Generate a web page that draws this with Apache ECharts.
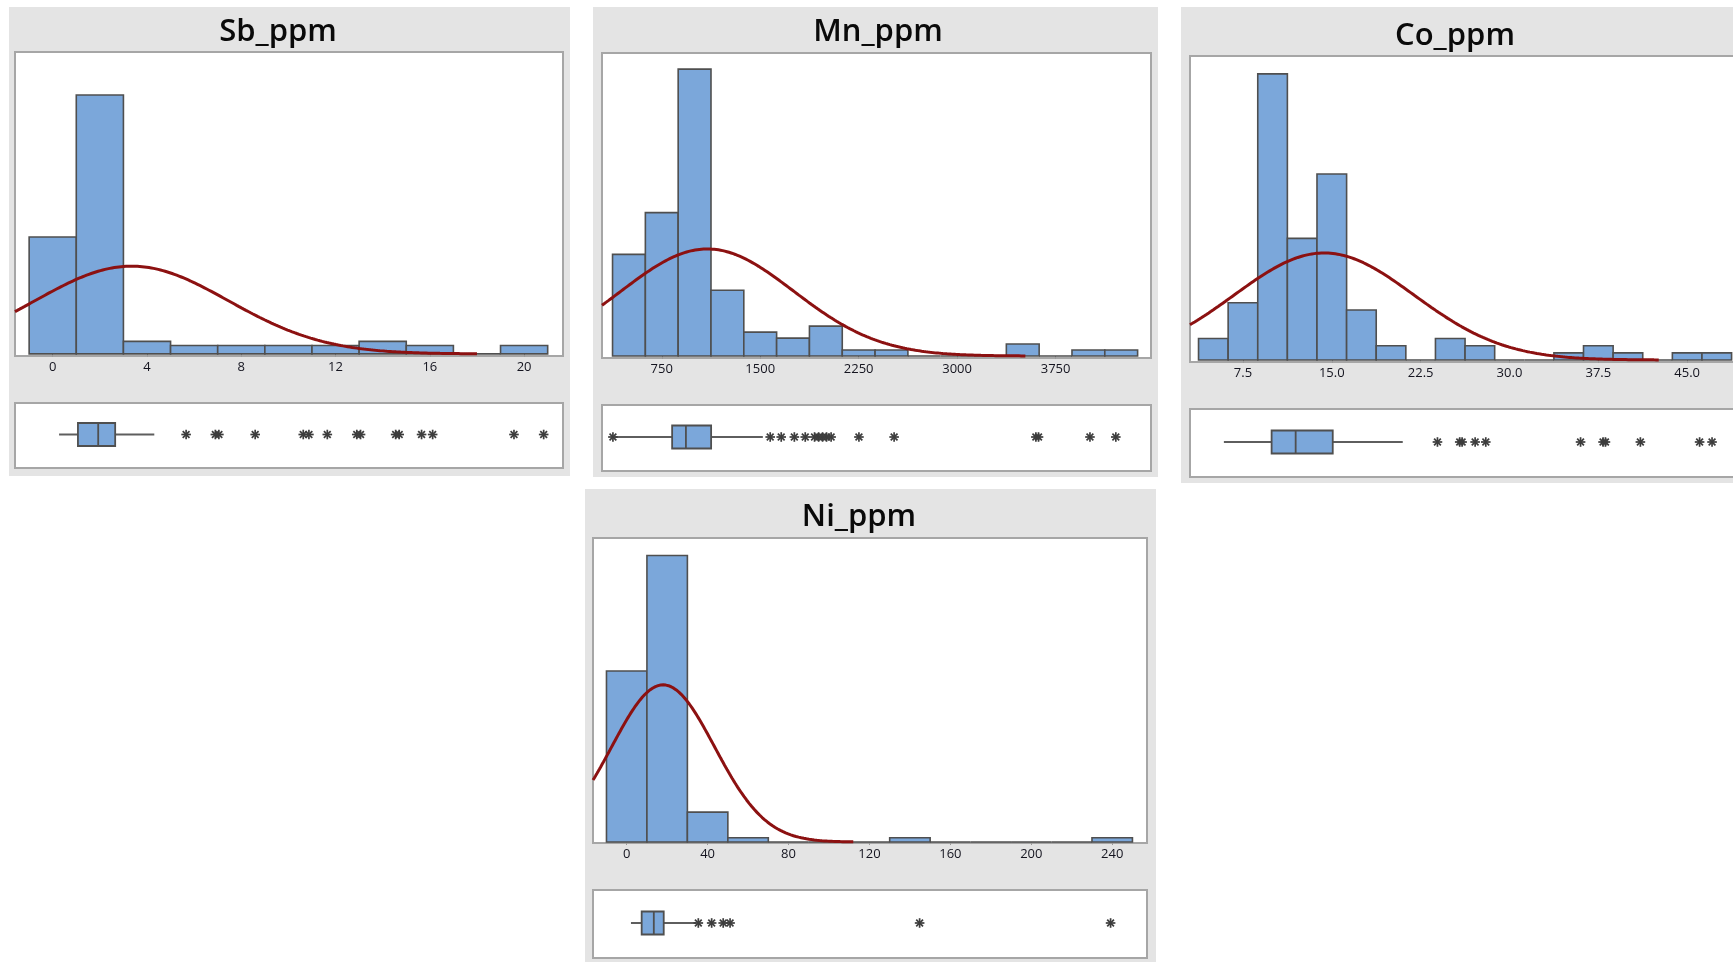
<!DOCTYPE html>
<html>
<head>
<meta charset="utf-8">
<title>Sb, Mn, Co, Ni (ppm) – histograms with normal fit and boxplots</title>
<script src="https://cdn.jsdelivr.net/npm/echarts@6/dist/echarts.min.js"></script>
<style>
  html, body { margin: 0; padding: 0; background: #ffffff; }
  #chart { width: 1733px; height: 962px; }
</style>
</head>
<body>
<div id="chart"></div>
<script>
// ---------------- Sb_ppm ----------------
const sbBinCenters = [0, 2, 4, 6, 8, 10, 12, 14, 16, 18, 20];
const sbCounts     = [28, 62, 3, 2, 2, 2, 2, 3, 2, 0, 2];
const sbBinWidth   = 2;
const sbBox        = [0.27, 1.07, 1.93, 2.65, 4.31];          // whisker low, Q1, median, Q3, whisker high
const sbOutliers   = [5.66, 6.9, 7.05, 8.59, 10.63, 10.87, 11.65, 12.9, 13.06, 14.55, 14.7, 15.65, 16.12, 19.57, 20.83];
const sbTicks      = [0, 4, 8, 12, 16, 20];
const sbAxisX      = [-1.6, 21.65];
const sbAxisY      = [-0.5, 72.3];
const sbFit        = [3.35, 4.1, 18.0];                       // mean, st.dev, end of drawn curve

// ---------------- Mn_ppm ----------------
const mnBinCenters = [500, 750, 1000, 1250, 1500, 1750, 2000, 2250, 2500, 2750, 3000, 3250, 3500, 3750, 4000, 4250];
const mnCounts     = [17, 24, 48, 11, 4, 3, 5, 1, 1, 0, 0, 0, 2, 0, 1, 1];
const mnBinWidth   = 250;
const mnBox        = [395, 829, 934, 1126, 1520];
const mnOutliers   = [378, 1576, 1660, 1760, 1843, 1914, 1945, 1975, 2005, 2040, 2252, 2520, 3600, 3620, 4012, 4209];
const mnTicks      = [750, 1500, 2250, 3000, 3750];
const mnAxisX      = [294.7, 4477];
const mnAxisY      = [-0.33, 50.7];
const mnFit        = [1097, 657, 3520];

// ---------------- Co_ppm ----------------
const coBinCenters = [5, 7.5, 10, 12.5, 15, 17.5, 20, 22.5, 25, 27.5, 30, 32.5, 35, 37.5, 40, 42.5, 45, 47.5];
const coCounts     = [3, 8, 40, 17, 26, 7, 2, 0, 3, 2, 0, 0, 1, 2, 1, 0, 1, 1];
const coBinWidth   = 2.5;
const coBox        = [5.89, 9.92, 11.95, 15.08, 20.99];
const coOutliers   = [23.92, 25.8, 26.0, 27.1, 28.0, 36.0, 37.9, 38.1, 41.05, 46.05, 47.1];
const coTicks      = [7.5, 15, 22.5, 30, 37.5, 45];
const coAxisX      = [3.03, 49.46];
const coAxisY      = [-0.28, 42.5];
const coFit        = [14.35, 7.6, 42.6];

// ---------------- Ni_ppm ----------------
const niBinCenters = [0, 20, 40, 60, 80, 100, 120, 140, 160, 180, 200, 220, 240];
const niCounts     = [40, 67, 7, 1, 0, 0, 0, 1, 0, 0, 0, 0, 1];
const niBinWidth   = 20;
const niBox        = [2.1, 7.4, 13.4, 18.3, 34.3];
const niOutliers   = [35.4, 42.0, 47.7, 51.1, 144.8, 239.2];
const niTicks      = [0, 40, 80, 120, 160, 200, 240];
const niAxisX      = [-16.66, 257.2];
const niAxisY      = [-0.23, 71.1];
const niFit        = [18.0, 25.4, 112];

// ---------------- styling ----------------
const PANEL_BG   = '#e4e4e4';
const FRAME      = '#a6a6a6';
const BAR_FILL   = '#7ba7da';
const BAR_EDGE   = '#4f4f4f';
const FIT_LINE   = '#8c1111';
const WHISKER    = '#5e5e5e';
const STAR       = '#3d3d3d';
const LABEL_FONT = '"Open Sans", "Noto Sans", sans-serif';

// Each panel: data references plus where its frames sit on the page.
const panels = [
  { title: 'Sb_ppm', centers: sbBinCenters, counts: sbCounts, width: sbBinWidth, box: sbBox, outliers: sbOutliers,
    ticks: sbTicks, decimals: 0, axisX: sbAxisX, axisY: sbAxisY, fit: sbFit,
    bg: [9, 7, 561, 469], hist: [15, 52, 548, 304], boxArea: [15, 403, 548, 65], titlePos: [278, 32] },
  { title: 'Mn_ppm', centers: mnBinCenters, counts: mnCounts, width: mnBinWidth, box: mnBox, outliers: mnOutliers,
    ticks: mnTicks, decimals: 0, axisX: mnAxisX, axisY: mnAxisY, fit: mnFit,
    bg: [593, 7, 565, 470], hist: [602, 53, 549, 305], boxArea: [602, 405, 549, 66], titlePos: [878, 32] },
  { title: 'Co_ppm', centers: coBinCenters, counts: coCounts, width: coBinWidth, box: coBox, outliers: coOutliers,
    ticks: coTicks, decimals: 1, axisX: coAxisX, axisY: coAxisY, fit: coFit,
    bg: [1181, 7, 565, 476], hist: [1190, 56, 550, 306], boxArea: [1190, 409, 550, 68], titlePos: [1455, 36] },
  { title: 'Ni_ppm', centers: niBinCenters, counts: niCounts, width: niBinWidth, box: niBox, outliers: niOutliers,
    ticks: niTicks, decimals: 0, axisX: niAxisX, axisY: niAxisY, fit: niFit,
    bg: [585, 489, 571, 480], hist: [593, 538, 554, 305], boxArea: [593, 890, 554, 68], titlePos: [859, 517] }
];

// Fitted normal curve, scaled to counts per bin.
function normalCurve(counts, binWidth, fit, xStart) {
  const n = counts.reduce((a, b) => a + b, 0);
  const [mu, sd, xEnd] = fit;
  const peak = n * binWidth / (sd * Math.sqrt(2 * Math.PI));
  const steps = 200;
  const pts = [];
  for (let i = 0; i <= steps; i++) {
    const x = xStart + (xEnd - xStart) * i / steps;
    const z = (x - mu) / sd;
    pts.push([x, peak * Math.exp(-0.5 * z * z)]);
  }
  return pts;
}

function histRenderer(binWidth) {
  return function (params, api) {
    const c = api.value(0), h = api.value(1);
    const p0 = api.coord([c - binWidth / 2, h]);
    const p1 = api.coord([c + binWidth / 2, 0]);
    return {
      type: 'rect',
      shape: { x: p0[0], y: p0[1], width: p1[0] - p0[0], height: p1[1] - p0[1] },
      style: { fill: BAR_FILL, stroke: BAR_EDGE, lineWidth: 1.6 }
    };
  };
}

function renderBox(params, api) {
  const yc = api.coord([api.value(0), 0.5])[1] - 1;
  const xs = [0, 1, 2, 3, 4].map(i => api.coord([api.value(i), 0.5])[0]);
  const h = 11.5;
  return {
    type: 'group',
    children: [
      { type: 'line', shape: { x1: xs[0], y1: yc, x2: xs[1], y2: yc }, style: { stroke: WHISKER, lineWidth: 2 } },
      { type: 'line', shape: { x1: xs[3], y1: yc, x2: xs[4], y2: yc }, style: { stroke: WHISKER, lineWidth: 2 } },
      { type: 'rect', shape: { x: xs[1], y: yc - h, width: xs[3] - xs[1], height: 2 * h },
        style: { fill: BAR_FILL, stroke: BAR_EDGE, lineWidth: 1.8 } },
      { type: 'line', shape: { x1: xs[2], y1: yc - h, x2: xs[2], y2: yc + h }, style: { stroke: BAR_EDGE, lineWidth: 1.8 } }
    ]
  };
}

function renderStar(params, api) {
  const p = api.coord([api.value(0), 0.5]);
  const r = 4.8;
  const children = [];
  for (let k = 0; k < 4; k++) {
    const a = k * Math.PI / 4;
    const dx = r * Math.cos(a), dy = r * Math.sin(a);
    children.push({
      type: 'line',
      shape: { x1: p[0] - dx, y1: p[1] - 1 - dy, x2: p[0] + dx, y2: p[1] - 1 + dy },
      style: { stroke: STAR, lineWidth: 1.7 }
    });
  }
  return { type: 'group', children };
}

const grids = [], xAxes = [], yAxes = [], series = [], graphics = [];

panels.forEach((p, i) => {
  const gHist = 2 * i, gBox = 2 * i + 1;

  graphics.push({
    type: 'rect', z: -10, silent: true,
    shape: { x: p.bg[0], y: p.bg[1], width: p.bg[2], height: p.bg[3] },
    style: { fill: PANEL_BG }
  });
  graphics.push({
    type: 'text', z: 10, silent: true,
    style: {
      text: p.title, x: p.titlePos[0], y: p.titlePos[1],
      font: '600 31px ' + LABEL_FONT, fill: '#0a0a0a',
      align: 'center', verticalAlign: 'middle', textAlign: 'center', textVerticalAlign: 'middle'
    }
  });

  [p.hist, p.boxArea].forEach(r => {
    grids.push({
      left: r[0], top: r[1], width: r[2], height: r[3],
      show: true, backgroundColor: '#ffffff', borderColor: FRAME, borderWidth: 2,
      containLabel: false, outerBoundsMode: 'none', z: 0
    });
  });

  xAxes.push({
    type: 'value', gridIndex: gHist, min: p.axisX[0], max: p.axisX[1],
    axisLine: { show: false }, splitLine: { show: false },
    axisTick: { show: true, customValues: p.ticks, length: 3, lineStyle: { color: '#9a9a9a', width: 1 } },
    axisLabel: {
      customValues: p.ticks, margin: 5, color: '#14141f', fontSize: 13, fontFamily: LABEL_FONT,
      formatter: v => Number(v).toFixed(p.decimals)
    }
  });
  xAxes.push({ type: 'value', gridIndex: gBox, min: p.axisX[0], max: p.axisX[1], show: false, splitLine: { show: false } });

  yAxes.push({ type: 'value', gridIndex: gHist, min: p.axisY[0], max: p.axisY[1], show: false, splitLine: { show: false } });
  yAxes.push({ type: 'value', gridIndex: gBox, min: 0, max: 1, show: false, splitLine: { show: false } });

  series.push({
    type: 'custom', name: p.title + ' histogram', xAxisIndex: gHist, yAxisIndex: gHist, z: 2,
    renderItem: histRenderer(p.width),
    data: p.centers.map((c, k) => [c, p.counts[k]]),
    clip: true, silent: true
  });
  series.push({
    type: 'line', name: p.title + ' normal fit', xAxisIndex: gHist, yAxisIndex: gHist, z: 4,
    data: normalCurve(p.counts, p.width, p.fit, p.axisX[0]),
    showSymbol: false, symbol: 'none', smooth: false, clip: true, silent: true,
    lineStyle: { color: FIT_LINE, width: 3 }
  });
  series.push({
    type: 'custom', name: p.title + ' box', xAxisIndex: gBox, yAxisIndex: gBox, z: 3,
    renderItem: renderBox, data: [p.box], silent: true, clip: true
  });
  series.push({
    type: 'custom', name: p.title + ' outliers', xAxisIndex: gBox, yAxisIndex: gBox, z: 3,
    renderItem: renderStar, data: p.outliers.map(v => [v, 0.5]), silent: true, clip: true
  });
});

const chart = echarts.init(document.getElementById('chart'), null, { renderer: 'canvas', width: 1733, height: 962 });
chart.setOption({
  backgroundColor: '#ffffff',
  animation: false,
  grid: grids,
  xAxis: xAxes,
  yAxis: yAxes,
  series: series,
  graphic: { elements: graphics }
});
</script>
</body>
</html>
